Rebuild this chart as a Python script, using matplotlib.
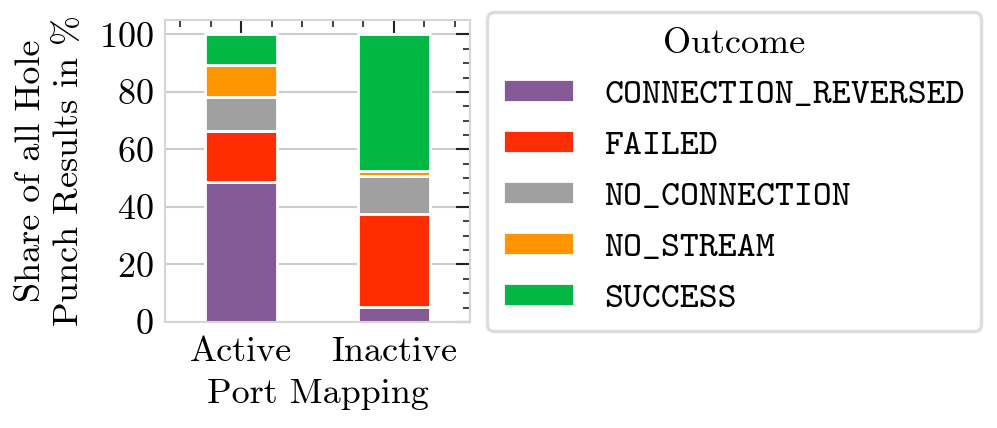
import matplotlib
matplotlib.use("Agg")
import matplotlib.pyplot as plt
from matplotlib.ticker import MultipleLocator
import numpy as np

plt.rcParams['font.family'] = ['cmr10', 'DejaVu Serif']
plt.rcParams['mathtext.fontset'] = 'cm'
plt.rcParams['axes.formatter.use_mathtext'] = True

categories = ["Active", "Inactive"]
outcomes = ["CONNECTION_REVERSED", "FAILED", "NO_CONNECTION", "NO_STREAM", "SUCCESS"]
colors = ["#845B97", "#FF2D00", "#A0A0A0", "#FF9500", "#00B843"]

connection_reversed = [48.8, 5.3]
failed = [17.6, 32.2]
no_connection = [12.0, 13.1]
no_stream = [10.9, 1.8]
success = [10.7, 47.6]
series = [connection_reversed, failed, no_connection, no_stream, success]

fs = 26

fig = plt.figure(figsize=(9.97, 4.28), dpi=100)
ax = fig.add_axes([165 / 997, 1 - 322 / 428, 305 / 997, 302 / 428])

x = np.arange(len(categories))
bottom = np.zeros(len(categories))
for name, vals, col in zip(outcomes, series, colors):
    ax.bar(x, vals, width=0.47, bottom=bottom, color=col, edgecolor="white",
           linewidth=2, label=name, zorder=2)
    bottom += np.array(vals)

ax.set_xlim(-0.5, 1.5)
ax.set_ylim(0, 105)
ax.set_xticks(x)
ax.set_xticklabels(categories)
ax.set_yticks([0, 20, 40, 60, 80, 100])
ax.xaxis.set_minor_locator(MultipleLocator(0.2))
ax.yaxis.set_minor_locator(MultipleLocator(5))
ax.tick_params(axis="both", which="both", labelsize=fs, direction="in",
               bottom=False, left=False, top=True, right=True,
               color="#222222")
ax.tick_params(which="major", length=10, width=1.5)
ax.tick_params(which="minor", length=5, width=1.2)
ax.tick_params(axis="x", pad=10)
ax.tick_params(axis="y", pad=8)
ax.grid(axis="y", color="#cccccc", linewidth=1.5, zorder=0)
ax.set_axisbelow(True)
for sp in ax.spines.values():
    sp.set_color("#d5d5d5")
    sp.set_linewidth(1.5)

ax.set_ylabel("Share of all Hole\nPunch Results in $\\%$", fontsize=fs, labelpad=10)
ax.set_xlabel("Port Mapping", fontsize=fs, labelpad=8)

leg = ax.legend(title="Outcome", loc="upper left", bbox_to_anchor=(1.056, 1.025),
                borderaxespad=0, title_fontsize=fs, handlelength=1.95,
                handleheight=0.6, handletextpad=0.85, labelspacing=0.52,
                frameon=True, fancybox=True, borderpad=0.45,
                prop={"family": ["cmtt10", "DejaVu Sans Mono"], "size": fs})
leg.get_frame().set_edgecolor("#d5d5d5")
leg.get_frame().set_linewidth(2.5)
leg.get_title().set_family(["cmr10", "DejaVu Serif"])

fig.savefig("out.png", dpi=100)
